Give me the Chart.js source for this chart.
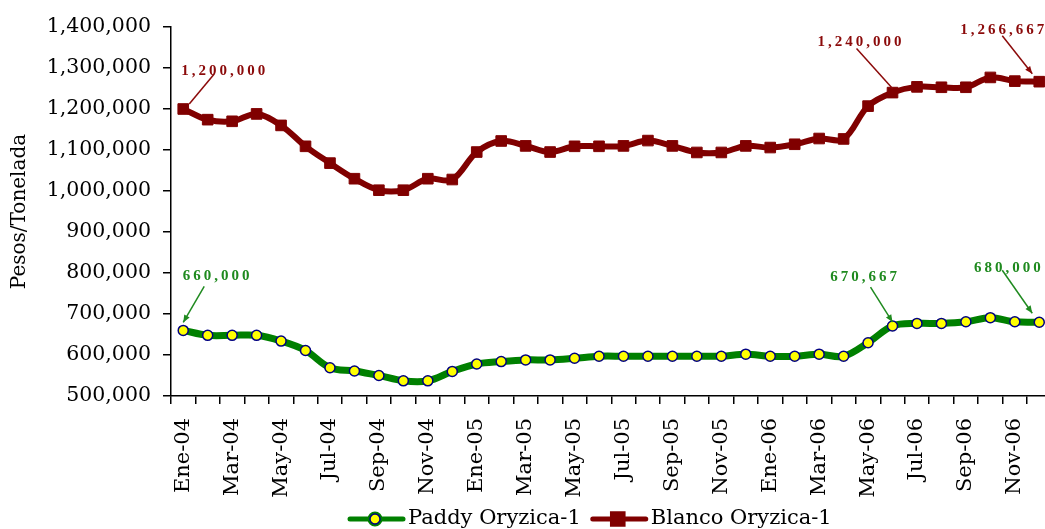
<!DOCTYPE html>
<html lang="es">
<head>
<meta charset="utf-8">
<title>Precio arroz Oryzica-1</title>
<script src="https://cdn.jsdelivr.net/npm/chart.js@4.4.1/dist/chart.umd.min.js"></script>
<style>
  html, body { margin: 0; padding: 0; background: #fff; overflow: hidden; }
  #wrap { width: 1060px; height: 529px; }
</style>
</head>
<body>
<div id="wrap"><canvas id="chart" width="1060" height="529"></canvas></div>
<script>
// ── DATA ─────────────────────────────────────────
const MONTHS = [
  'Ene-04','Feb-04','Mar-04','Abr-04','May-04','Jun-04','Jul-04','Ago-04','Sep-04','Oct-04','Nov-04','Dic-04',
  'Ene-05','Feb-05','Mar-05','Abr-05','May-05','Jun-05','Jul-05','Ago-05','Sep-05','Oct-05','Nov-05','Dic-05',
  'Ene-06','Feb-06','Mar-06','Abr-06','May-06','Jun-06','Jul-06','Ago-06','Sep-06','Oct-06','Nov-06','Dic-06'
];

const PADDY = [
  660000, 648000, 648000, 648000, 634000, 611000, 569000, 561000, 550000, 537000, 537000, 560000,
  578000, 584000, 588000, 588000, 592000, 597000, 597000, 597000, 597000, 597000, 597000, 602000,
  597000, 597000, 602000, 597000, 630000, 670667, 677000, 677000, 681000, 691000, 681000, 680000
];

const BLANCO = [
  1200000, 1174000, 1170000, 1188000, 1160000, 1109000, 1068000, 1030000, 1002000, 1002000, 1030000, 1028000,
  1095000, 1122000, 1110000, 1095000, 1109000, 1109000, 1110000, 1123000, 1110000, 1094000, 1094000, 1110000,
  1106000, 1114000, 1128000, 1127000, 1207000, 1240000, 1254000, 1253000, 1253000, 1277000, 1268000, 1266667
];

const SERIES_NAMES = ['Paddy Oryzica-1', 'Blanco Oryzica-1'];
const Y_MIN  = 500000;
const Y_MAX  = 1400000;
const Y_STEP = 100000;

// value callouts: which series / month gets a label
const CALLOUTS = [
  { ds: 1, idx: 0,  arrow: false, tx:  40, ty: -38, from: [ 31, -35], to: [ 6, -5] },
  { ds: 1, idx: 29, arrow: false, tx: -33, ty: -50, from: [-36, -44], to: [ 0, -4] },
  { ds: 1, idx: 35, arrow: true,  tx: -37, ty: -52, from: [-37, -46], to: [-7, -8] },
  { ds: 0, idx: 0,  arrow: true,  tx:  33, ty: -54, from: [ 21, -44], to: [ 0, -8] },
  { ds: 0, idx: 29, arrow: true,  tx: -29, ty: -49, from: [-22, -39], to: [ 0, -4] },
  { ds: 0, idx: 35, arrow: true,  tx: -32, ty: -54, from: [-37, -52], to: [-7, -9] }
];

const RED   = '#800000';
const GREEN = '#008000';
const LABEL_COLORS = ['#1f8a1f', '#8b0a0a'];
const FONT = "'DejaVu Serif', serif";

const fmt = v => Math.round(v).toLocaleString('en-US');

// ── HELPERS ──────────────────────────────────────
function drawSpaced(ctx, text, cx, cy, spacing) {
  const widths = [...text].map(c => ctx.measureText(c).width);
  const total  = widths.reduce((a, b) => a + b, 0) + spacing * (text.length - 1);
  let x = cx - total / 2;
  ctx.textAlign = 'left';
  ctx.textBaseline = 'middle';
  [...text].forEach((c, i) => {
    ctx.fillText(c, x, cy);
    x += widths[i] + spacing;
  });
}

function arrowHead(ctx, x1, y1, x2, y2, size) {
  const a = Math.atan2(y2 - y1, x2 - x1);
  ctx.beginPath();
  ctx.moveTo(x2, y2);
  ctx.lineTo(x2 - size * Math.cos(a - 0.4), y2 - size * Math.sin(a - 0.4));
  ctx.lineTo(x2 - size * Math.cos(a + 0.4), y2 - size * Math.sin(a + 0.4));
  ctx.closePath();
  ctx.fill();
}

// ── CALLOUT PLUGIN ───────────────────────────────
const calloutPlugin = {
  id: 'callouts',
  afterDatasetsDraw(chart) {
    const ctx = chart.ctx;
    ctx.save();
    CALLOUTS.forEach(c => {
      const pt = chart.getDatasetMeta(c.ds).data[c.idx];
      const val = chart.data.datasets[c.ds].data[c.idx];
      const col = LABEL_COLORS[c.ds];
      const x1 = pt.x + c.from[0], y1 = pt.y + c.from[1];
      const x2 = pt.x + c.to[0],   y2 = pt.y + c.to[1];
      ctx.strokeStyle = col;
      ctx.fillStyle = col;
      ctx.lineWidth = 1.5;
      ctx.beginPath();
      ctx.moveTo(x1, y1);
      ctx.lineTo(x2, y2);
      ctx.stroke();
      if (c.arrow) arrowHead(ctx, x1, y1, x2, y2, 8);
      ctx.font = "bold 15px 'Liberation Serif', serif";
      drawSpaced(ctx, fmt(val), pt.x + c.tx, pt.y + c.ty, 3);
    });
    ctx.restore();
  }
};

// ── LEGEND PLUGIN ────────────────────────────────
const legendPlugin = {
  id: 'lineLegend',
  afterDraw(chart) {
    const ctx = chart.ctx;
    const y = 519;
    let x = 348;
    ctx.save();
    ctx.font = '21px ' + FONT;
    ctx.textBaseline = 'middle';
    ctx.textAlign = 'left';
    chart.data.datasets.forEach(ds => {
      ctx.strokeStyle = ds.borderColor;
      ctx.lineWidth = 5;
      ctx.lineCap = 'round';
      ctx.beginPath();
      ctx.moveTo(x + 2, y);
      ctx.lineTo(x + 55, y);
      ctx.stroke();
      Chart.helpers.drawPoint(ctx, {
        pointStyle: ds.pointStyle,
        radius: ds.pointRadius,
        borderWidth: ds.pointBorderWidth
      }, x + 27, y);
      ctx.fillStyle = ds.pointBackgroundColor;
      ctx.strokeStyle = ds.pointBorderColor;
      ctx.lineWidth = ds.pointBorderWidth;
      ctx.fill();
      ctx.stroke();
      ctx.fillStyle = '#000';
      ctx.fillText(ds.label, x + 60, y);
      x += 60 + ctx.measureText(ds.label).width + 10;
    });
    ctx.restore();
  }
};

// ── CHART ────────────────────────────────────────
new Chart(document.getElementById('chart'), {
  type: 'line',
  data: {
    labels: MONTHS,
    datasets: [
      {
        label: SERIES_NAMES[0],
        data: PADDY,
        borderColor: GREEN,
        borderWidth: 7,
        tension: 0.35,
        pointStyle: 'circle',
        pointRadius: 5,
        pointBackgroundColor: '#ffff00',
        pointBorderColor: '#000080',
        pointBorderWidth: 1.5
      },
      {
        label: SERIES_NAMES[1],
        data: BLANCO,
        borderColor: RED,
        borderWidth: 6,
        tension: 0.35,
        pointStyle: 'rect',
        pointRadius: 7.5,
        pointBackgroundColor: RED,
        pointBorderColor: RED,
        pointBorderWidth: 1
      }
    ]
  },
  options: {
    responsive: false,
    animation: false,
    layout: { padding: { top: 27, right: 8, bottom: 0, left: 0 } },
    plugins: { legend: { display: false }, tooltip: { enabled: false } },
    scales: {
      x: {
        offset: true,
        grid: { offset: true, drawOnChartArea: false, drawTicks: true, tickLength: 8, color: '#000', lineWidth: 1.5 },
        border: { display: true, color: '#000', width: 1.5 },
        ticks: {
          autoSkip: false,
          minRotation: 90,
          maxRotation: 90,
          padding: 14,
          color: '#000',
          font: { family: FONT, size: 21 },
          callback: (v, i) => i % 2 === 0 ? MONTHS[i] : ''
        },
        afterFit: s => { s.height = 133; s.paddingLeft = 0; s.paddingRight = 0; }
      },
      y: {
        min: Y_MIN,
        max: Y_MAX,
        grid: { drawOnChartArea: false, drawTicks: true, tickLength: 8, color: '#000', lineWidth: 1.5 },
        border: { display: true, color: '#000', width: 1.5 },
        ticks: {
          stepSize: Y_STEP,
          padding: 12,
          color: '#000',
          font: { family: FONT, size: 20.5 },
          callback: v => fmt(v)
        },
        title: {
          display: true,
          text: 'Pesos/Tonelada',
          color: '#000',
          font: { family: FONT, size: 20 },
          padding: { top: 8, bottom: 0 }
        },
        afterFit: s => { s.width = 171; }
      }
    }
  },
  plugins: [calloutPlugin, legendPlugin]
});
</script>
</body>
</html>
